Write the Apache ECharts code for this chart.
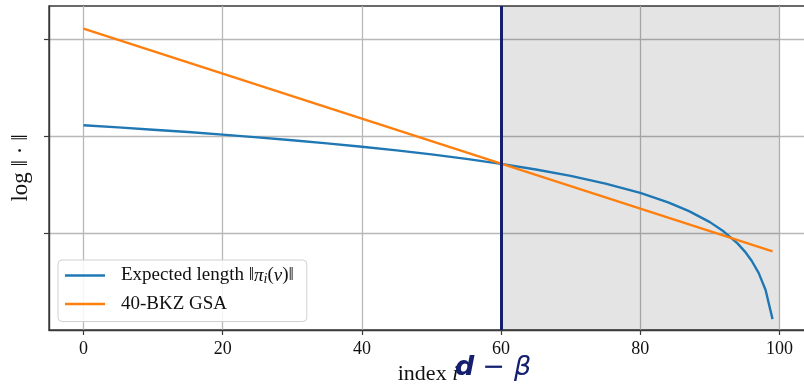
<!DOCTYPE html>
<html>
<head>
<meta charset="utf-8">
<script src="https://cdn.jsdelivr.net/npm/echarts@6/dist/echarts.min.js"></script>
<style>
html, body { margin: 0; padding: 0; background: #fff; }
#chart { width: 804px; height: 384px; }
</style>
</head>
<body>
<div id="chart"></div>
<script>
// index i along the basis
var blueIdx = [0, 5, 10, 15, 20, 25, 30, 35, 40, 45, 50, 55, 60, 65, 70, 75, 80, 84, 87, 90, 92, 94, 95, 96, 97, 98, 99];
// expected length log||pi_i(v)||
var blueVals = [2.111, 2.089, 2.065, 2.041, 2.014, 1.986, 1.956, 1.924, 1.889, 1.852, 1.810, 1.764, 1.713, 1.655, 1.589, 1.509, 1.413, 1.316, 1.226, 1.112, 1.015, 0.890, 0.811, 0.714, 0.589, 0.413, 0.112];
// 40-BKZ GSA is a straight line
var gsaIdx = [0, 99];
var gsaVals = [3.106, 0.811];
var xTicks = [0, 20, 40, 60, 80, 100];
var yTicks = [1, 2, 3];
var cutIdx = 60;   // d - beta
var endIdx = 100;

var serif = 'Liberation Serif';
var dom = document.getElementById('chart');
var myChart = echarts.init(dom, null, {renderer: 'canvas'});

function pairs(xs, ys) {
    return xs.map(function (x, k) { return [x, ys[k]]; });
}

var option = {
    animation: false,
    grid: {
        left: 49, top: 6, width: 758, height: 324,
        containLabel: false,
        outerBoundsMode: 'none',
        show: true, borderColor: '#3a3a3a', borderWidth: 1.4, backgroundColor: 'transparent'
    },
    legend: {
        left: 58, top: 260,
        orient: 'vertical',
        itemWidth: 40, itemHeight: 2.6, itemGap: 8,
        padding: [6, 13, 8, 7],
        borderColor: '#d0d0d0', borderWidth: 1, borderRadius: 4,
        backgroundColor: 'rgba(255,255,255,0.85)',
        data: [{name: 'blue', icon: 'rect'}, {name: 'gsa', icon: 'rect'}],
        formatter: function (name) {
            if (name === 'blue') return 'Expected length \u2016{it|\u03c0}{sub|i}({it|v})\u2016';
            return '40-BKZ GSA';
        },
        textStyle: {
            fontFamily: serif, fontSize: 19, color: '#111', padding: [0, 0, 0, 11],
            rich: {
                it: {fontFamily: serif, fontStyle: 'italic', fontSize: 19, color: '#111'},
                sub: {fontFamily: serif, fontStyle: 'italic', fontSize: 14, color: '#111', padding: [8, 0, 0, 0]}
            }
        }
    },
    xAxis: {
        type: 'value',
        min: -4.95, max: 103.95,
        name: 'index {it|i}',
        nameLocation: 'middle',
        nameGap: 28,
        nameTextStyle: {
            fontFamily: serif, fontSize: 22, color: '#111',
            rich: {it: {fontFamily: serif, fontStyle: 'italic', fontSize: 22, color: '#111'}}
        },
        axisLine: {show: true, onZero: false, lineStyle: {color: '#3a3a3a', width: 1.4}},
        axisTick: {show: true, inside: false, length: 5, customValues: xTicks, lineStyle: {color: '#3a3a3a', width: 1.2}},
        axisLabel: {show: true, customValues: xTicks, margin: 10, fontFamily: serif, fontSize: 18, color: '#111'},
        splitLine: {show: true, lineStyle: {color: '#b8b8b8', width: 1.3}}
    },
    yAxis: {
        type: 'value',
        min: 0, max: 3.34, interval: 1,
        name: 'log \u2016 \u00b7 \u2016',
        nameLocation: 'middle',
        nameRotate: 90,
        nameGap: 17,
        nameTextStyle: {fontFamily: serif, fontSize: 23, color: '#111'},
        axisLine: {show: true, onZero: false, lineStyle: {color: '#3a3a3a', width: 1.4}},
        axisTick: {show: true, inside: false, length: 5, customValues: yTicks, lineStyle: {color: '#3a3a3a', width: 1.2}},
        axisLabel: {show: false},
        splitLine: {show: true, lineStyle: {color: '#b8b8b8', width: 1.3}}
    },
    series: [
        {
            name: 'blue',
            type: 'line',
            data: pairs(blueIdx, blueVals),
            symbol: 'none',
            smooth: false,
            lineStyle: {color: '#1f77b4', width: 2.4},
            itemStyle: {color: '#1f77b4'},
            z: 3,
            markArea: {
                silent: true,
                itemStyle: {color: 'rgba(0,0,0,0.105)'},
                data: [[{xAxis: cutIdx}, {xAxis: endIdx}]]
            }
        },
        {
            name: 'gsa',
            type: 'line',
            data: pairs(gsaIdx, gsaVals),
            symbol: 'none',
            lineStyle: {color: '#ff7f0e', width: 2.4},
            itemStyle: {color: '#ff7f0e'},
            z: 4,
            markLine: {
                silent: true,
                symbol: ['none', 'none'],
                lineStyle: {color: '#14206e', width: 3, type: 'solid'},
                label: {
                    show: true,
                    position: 'start',
                    distance: 24,
                    padding: [0, 16, 0, 0],
                    formatter: '{b|d}{m|\u2212}{r|\u03b2}',
                    rich: {
                        b: {fontFamily: 'DejaVu Sans', fontWeight: 'bold', fontStyle: 'italic', fontSize: 27, color: '#14206e'},
                        m: {fontFamily: 'DejaVu Sans', fontSize: 27, color: '#14206e', padding: [0, 9, 0, 8]},
                        r: {fontFamily: 'DejaVu Sans', fontStyle: 'italic', fontSize: 27, color: '#14206e'}
                    }
                },
                data: [{xAxis: cutIdx}]
            }
        }
    ]
};

myChart.setOption(option);
</script>
</body>
</html>
